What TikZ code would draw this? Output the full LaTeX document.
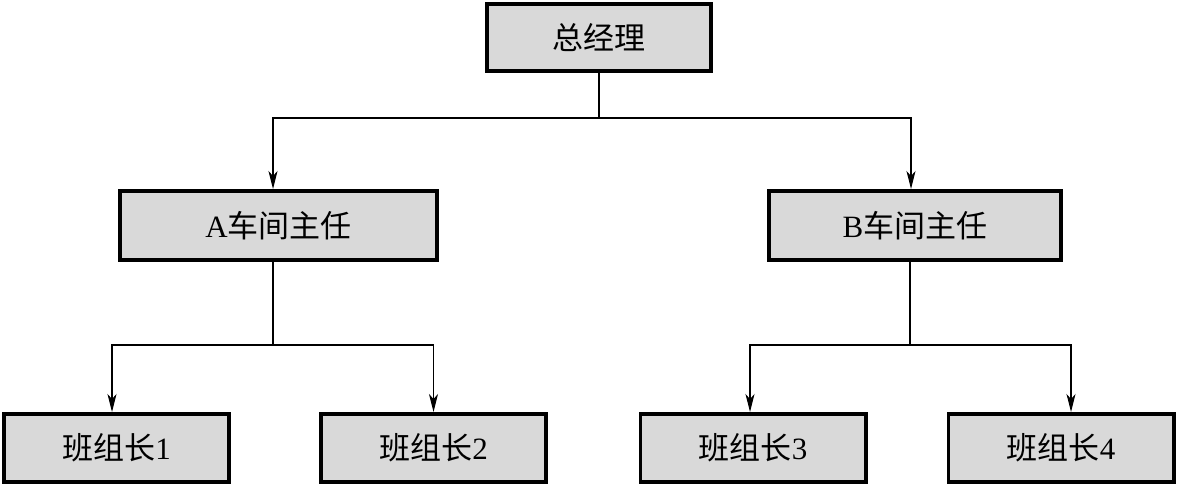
\documentclass[tikz,border=0pt]{standalone}
\usepackage{fontspec}
\setmainfont{Liberation Serif}
\newfontfamily\cjk{Noto Sans CJK SC}
\usetikzlibrary{arrows.meta}
\definecolor{boxgray}{RGB}{217,217,217}
\tikzset{
	box/.style={draw, line width=1.9pt, fill=boxgray, inner sep=0pt,
		font=\fontsize{15.5}{18}\selectfont},
	link/.style={line width=0.55pt},
	arr/.style={link, -{Stealth[length=9pt,width=4.5pt,inset=2.5pt]}}
}

\begin{document}
\begin{tikzpicture}[x=0.5pt,y=-0.5pt]
			\useasboundingbox (0,0) rectangle (1177,487);
			\node[box, minimum width=112pt, minimum height=33.6pt] (top) at (599,37.5) {\cjk 总经理};
			\node[box, minimum width=158.6pt, minimum height=34.6pt] (A) at (278.5,225.5) {A{\cjk 车间主任}};
			\node[box, minimum width=146.1pt, minimum height=34.6pt] (B) at (915,225.5) {B{\cjk 车间主任}};
			\foreach \x/\y in {116.5/1,433.5/2,753/3,1061/4}{
					\node[box, minimum width=112.6pt, minimum height=34.1pt] (g\y) at (\x,448) {{\cjk 班组长}\y};
				}
			% top level
			\draw[link] (top.south) -- (top.south |- 0,118) coordinate (j0);
			\draw[arr] (j0) -| ([xshift=-2.75pt]A.north);
			\draw[arr] (j0) -| ([xshift=-2pt]B.north);
			% workshop A
			\draw[link] ([xshift=-2.75pt]A.south) -- ([xshift=-2.75pt]A.south |- 0,345) coordinate (jA);
			\draw[arr] (jA) -| ([xshift=-2.25pt]g1.north);
			\draw[arr] (jA) -| (g2.north);
			% workshop B
			\draw[link] ([xshift=-2.5pt]B.south) -- ([xshift=-2.5pt]B.south |- 0,345) coordinate (jB);
			\draw[arr] (jB) -| ([xshift=-1.5pt]g3.north);
			\draw[arr] (jB) -| ([xshift=5pt]g4.north);
		\end{tikzpicture}
\end{document}
